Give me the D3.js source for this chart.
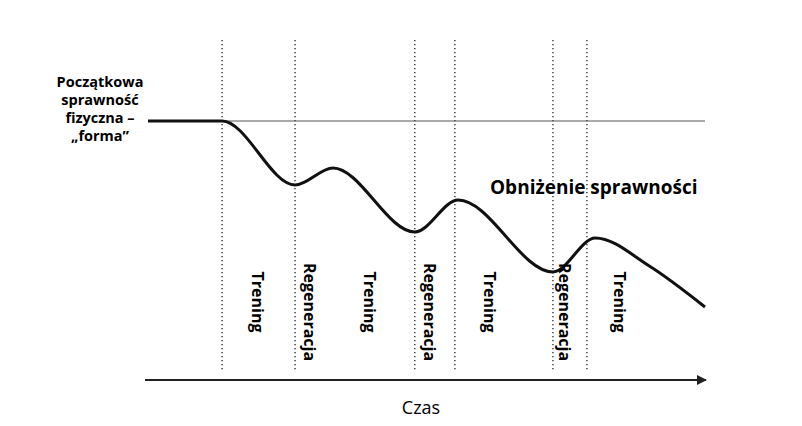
<!DOCTYPE html>
<html><head><meta charset="utf-8">
<script src="https://cdn.jsdelivr.net/npm/d3@7"></script>
<style>body{margin:0;background:#fff}</style>
</head><body>
<script>
// time in arbitrary units 0..100, fitness 100 = starting level
var phaseBounds = [13.3, 26.4, 47.9, 55.1, 72.7, 78.8];
var phaseLabels = ["Trening", "Regeneracja", "Trening", "Regeneracja", "Trening", "Regeneracja", "Trening"];
var labelTimes = [19.7, 29.1, 39.8, 50.6, 61.4, 74.9, 84.7];
var curveTimes = [0, 13.3, 26.4, 33.2, 47.9, 55.7, 72.7, 80.3, 90, 100];
var curveFitness = [100, 100, 74.4, 81.2, 55.6, 68.4, 39.6, 53.2, 42, 25.6];
var startLabel = ["Początkowa", "sprawność", "fizyczna –", "„forma”"];

var font = "'Liberation Sans Narrow', 'Open Sans', Arial, sans-serif";
var svg = d3.select("body").append("svg").attr("width", 802).attr("height", 426);

var x = d3.scaleLinear().domain([0, 100]).range([148, 705]);
var y = d3.scaleLinear().domain([100, 0]).range([121, 371]);

// dotted phase boundaries
svg.selectAll("line.phase").data(phaseBounds).enter().append("line")
    .attr("x1", d => x(d)).attr("x2", d => x(d))
    .attr("y1", 40).attr("y2", 372)
    .attr("stroke", "#222").attr("stroke-width", 1.3)
    .attr("stroke-dasharray", "1.3,2.7");

// baseline
svg.append("line").attr("x1", x(0)).attr("x2", x(100))
    .attr("y1", y(100)).attr("y2", y(100))
    .attr("stroke", "#555").attr("stroke-width", 1);

var pts = curveTimes.map((t, i) => [t, curveFitness[i]]);
svg.append("path").datum(pts)
    .attr("d", d3.line().x(d => x(d[0])).y(d => y(d[1])).curve(d3.curveMonotoneX))
    .attr("fill", "none").attr("stroke", "#111").attr("stroke-width", 3);

// phase labels, rotated
svg.selectAll("text.phase").data(phaseLabels).enter().append("text")
    .attr("transform", (d, i) => "translate(" + (x(labelTimes[i]) - 6) + "," + (d === "Trening" ? 302 : 312) + ") rotate(90)")
    .attr("text-anchor", "middle")
    .attr("font-family", font).attr("font-weight", "bold")
    .attr("font-size", 16)
    .text(d => d);

// start label
svg.append("text").attr("font-family", font).attr("font-weight", "bold")
    .attr("font-size", 14.5).attr("text-anchor", "middle")
    .selectAll("tspan").data(startLabel).enter().append("tspan")
    .attr("x", 100).attr("y", (d, i) => 87 + i * 18).text(d => d);

svg.append("text").attr("x", 490).attr("y", 194)
    .attr("font-family", font).attr("font-weight", "bold").attr("font-size", 19)
    .text("Obniżenie sprawności");

// time axis
svg.append("defs").append("marker").attr("id", "arr")
    .attr("viewBox", "0 0 10 10").attr("refX", 9).attr("refY", 5)
    .attr("markerWidth", 5).attr("markerHeight", 5).attr("orient", "auto")
    .append("path").attr("d", "M0,0L10,5L0,10z").attr("fill", "#222");
svg.append("line").attr("x1", 145).attr("x2", 706).attr("y1", 380).attr("y2", 380)
    .attr("stroke", "#222").attr("stroke-width", 2).attr("marker-end", "url(#arr)");
svg.append("text").attr("x", 421).attr("y", 414).attr("text-anchor", "middle")
    .attr("font-family", font).attr("font-size", 18).text("Czas");
</script>
</body></html>
